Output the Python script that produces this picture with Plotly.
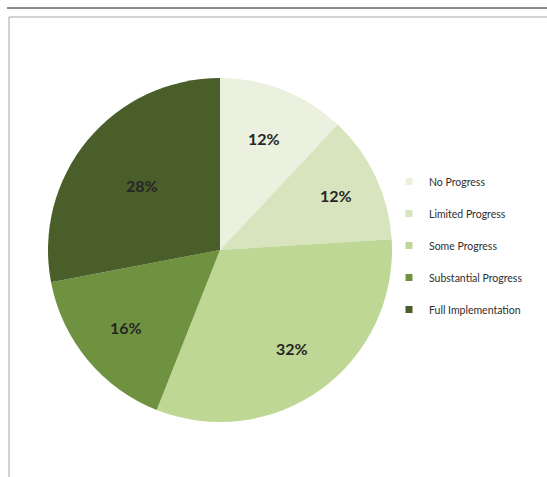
import math
import plotly.graph_objects as go

# Implementation status shares
categories = ["No Progress", "Limited Progress", "Some Progress",
              "Substantial Progress", "Full Implementation"]
shares = [12, 12, 32, 16, 28]
colors = ["#EBF1DE", "#D7E4BD", "#BED795", "#6F9240", "#4A5E2A"]
# distance of each percentage label from the centre, as a fraction of the radius
label_radius = [0.70, 0.745, 0.71, 0.71, 0.59]

W, H = 547, 477
PIE_X = (48, 392)   # pie box in pixels
PIE_Y = (78, 422)

fig = go.Figure()

fig.add_trace(go.Pie(
    labels=categories,
    values=shares,
    sort=False,
    direction="clockwise",
    rotation=0,
    marker=dict(colors=colors, line=dict(width=0)),
    textinfo="none",
    domain=dict(x=[PIE_X[0] / W, PIE_X[1] / W],
                y=[1 - PIE_Y[1] / H, 1 - PIE_Y[0] / H]),
    showlegend=False,
    hoverinfo="label+percent",
))

# Percentage labels placed at the middle angle of each slice
cx = (PIE_X[0] + PIE_X[1]) / 2
cy = (PIE_Y[0] + PIE_Y[1]) / 2
R = (PIE_X[1] - PIE_X[0]) / 2
total = sum(shares)
cum = 0
for v, rf in zip(shares, label_radius):
    mid = (cum + v / 2) / total * 2 * math.pi   # clockwise from 12 o'clock
    cum += v
    px = cx + rf * R * math.sin(mid)
    py = cy - rf * R * math.cos(mid)
    fig.add_annotation(
        x=px / W, y=1 - py / H, xref="paper", yref="paper",
        xanchor="center", yanchor="middle",
        text=f"{v}%", showarrow=False,
        font=dict(family="Lato", size=16, color="#262626", weight="bold"),
    )

# Legend entries, one group per category so the gap between rows can be set
for name, col in zip(categories, colors):
    fig.add_trace(go.Scatter(
        x=[None], y=[None], mode="markers",
        marker=dict(symbol="square", size=7, color=col),
        name=name, legendgroup=name, showlegend=True,
    ))

fig.update_layout(
    width=W, height=H,
    margin=dict(l=0, r=0, t=0, b=0),
    paper_bgcolor="white",
    plot_bgcolor="white",
    xaxis=dict(visible=False),
    yaxis=dict(visible=False),
    legend=dict(
        x=389 / W, y=1 - 167 / H, xanchor="left", yanchor="top",
        font=dict(family="Lato", size=10.5, color="#2e2e2e"),
        tracegroupgap=13,
        itemwidth=30,
        bgcolor="rgba(0,0,0,0)",
    ),
    shapes=[
        # rule across the top of the page
        dict(type="line", xref="paper", yref="paper",
             x0=7 / W, x1=1, y0=1 - 8 / H, y1=1 - 8 / H,
             line=dict(color="#1a1a1a", width=1)),
        # chart frame
        dict(type="line", xref="paper", yref="paper",
             x0=9 / W, x1=1, y0=1 - 17 / H, y1=1 - 17 / H,
             line=dict(color="#a6a6a6", width=1)),
        dict(type="line", xref="paper", yref="paper",
             x0=9 / W, x1=9 / W, y0=0, y1=1 - 17 / H,
             line=dict(color="#a6a6a6", width=1)),
    ],
)

fig.write_html("out.html")
